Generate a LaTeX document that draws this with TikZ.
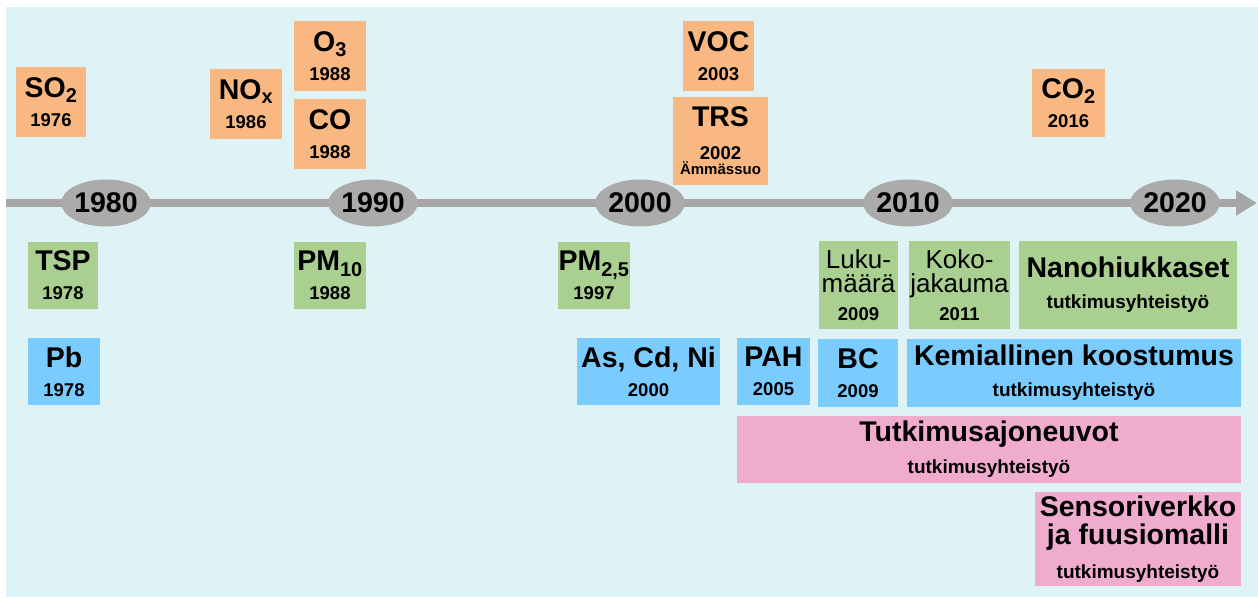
\documentclass[tikz,border=0pt]{standalone}
\usepackage{fontspec}
\setmainfont{Liberation Sans}
\usepackage{xcolor}
\usetikzlibrary{shapes.geometric,arrows.meta}
\definecolor{bgcol}{HTML}{DFF2F5}
\definecolor{orangebox}{HTML}{F9B882}
\definecolor{greenbox}{HTML}{A9CF91}
\definecolor{bluebox}{HTML}{7ACCFF}
\definecolor{pinkbox}{HTML}{F0ACCE}
\definecolor{axisgray}{HTML}{A6A6A6}
\definecolor{yeargray}{HTML}{ABABAB}
\newcommand{\yrtxt}[1]{{\fontsize{18.5}{22}\selectfont #1}}
\newcommand{\coltxt}[1]{{\fontsize{19}{22}\selectfont #1}}
\newcommand{\placetxt}[1]{{\fontsize{15}{18}\selectfont #1}}
\newcommand{\lighttxt}[1]{{\mdseries\fontsize{26}{29}\selectfont #1}}
\tikzset{
    every node/.style={font=\bfseries\fontsize{28.5}{29}\selectfont, align=center, inner sep=0pt},
    gasbox/.style={fill=orangebox, minimum width=#1},
    pmbox/.style={fill=greenbox, minimum width=#1},
    chembox/.style={fill=bluebox, minimum width=#1},
    projbox/.style={fill=pinkbox, minimum width=#1},
    decade/.style={ellipse, fill=yeargray, minimum width=82pt, minimum height=47pt, font=\bfseries\fontsize{28.5}{30}\selectfont}
}

\begin{document}
\begin{tikzpicture}[x=1pt,y=-1pt]
    \useasboundingbox (0,0) rectangle (1258,597);
    \fill[bgcol] (6,7) rectangle (1258,597);

    % Timeline
    \coordinate (tstart) at (6,203);
    \coordinate (tend) at (1257,203);
    \draw[axisgray, line width=8pt, -{Triangle[length=21pt,width=24pt]}] (tstart) -- (tend);
    \foreach \yr/\xpos in {1980/106, 1990/373, 2000/640, 2010/908, 2020/1175} {
        \node[decade] (y\yr) at (\xpos,203) {\yr};
    }

    % Gases above the timeline
    \node[gasbox=70pt, minimum height=70pt] (so2) at (51,102) {SO\textsubscript{2}\\\yrtxt{1976}};
    \node[gasbox=72pt, minimum height=70pt] (nox) at (246,104) {NO\textsubscript{x}\\\yrtxt{1986}};
    \node[gasbox=72pt, minimum height=70pt] (o3) at (330,56) {O\textsubscript{3}\\\yrtxt{1988}};
    \node[gasbox=72pt, minimum height=70pt] (co) at (330,134) {CO\\\yrtxt{1988}};
    \node[gasbox=71pt, minimum height=70pt] (voc) at (718.5,56) {VOC\\\yrtxt{2003}};
    \node[gasbox=95pt, minimum height=88pt] (trs) at (720.5,141) {TRS\\[4pt]\yrtxt{2002}\\[-14pt]\placetxt{Ämmässuo}};
    \node[gasbox=73pt, minimum height=68pt] (co2) at (1068.5,103) {CO\textsubscript{2}\\\yrtxt{2016}};

    % Particles
    \node[pmbox=70pt, minimum height=67pt] (tsp) at (63,275.5) {TSP\\\yrtxt{1978}};
    \node[pmbox=72pt, minimum height=67pt] (pm10) at (330,275.5) {PM\textsubscript{10}\\\yrtxt{1988}};
    \node[pmbox=72pt, minimum height=67pt] (pm25) at (594,275.5) {PM\textsubscript{2,5}\\\yrtxt{1997}};
    \node[pmbox=79pt, minimum height=88pt] (luku) at (858.5,285) {\lighttxt{Luku-}\\[-5pt]\lighttxt{määrä}\\[-1pt]\yrtxt{2009}};
    \node[pmbox=101pt, minimum height=88pt] (koko) at (959.5,285) {\lighttxt{Koko-}\\[-5pt]\lighttxt{jakauma}\\[-1pt]\yrtxt{2011}};
    \node[pmbox=218pt, minimum height=88pt] (nano) at (1128,285) {Nanohiukkaset\\[2pt]\coltxt{tutkimusyhteistyö}};

    % Chemical composition
    \node[chembox=72pt, minimum height=67pt] (pb) at (64,371.5) {Pb\\\yrtxt{1978}};
    \node[chembox=143pt, minimum height=67pt] (ascdni) at (648.5,371.5) {As, Cd, Ni\\\yrtxt{2000}};
    \node[chembox=73pt, minimum height=67pt] (pah) at (773.5,371.5) {PAH\\\yrtxt{2005}};
    \node[chembox=80pt, minimum height=68pt] (bc) at (858,373) {BC\\\yrtxt{2009}};
    \node[chembox=334pt, minimum height=68pt] (kemia) at (1074,373) {Kemiallinen koostumus\\[2pt]\coltxt{tutkimusyhteistyö}};

    % Research projects
    \node[projbox=504pt, minimum height=67pt] (ajoneuvot) at (989,449.5) {Tutkimusajoneuvot\\[3pt]\coltxt{tutkimusyhteistyö}};
    \node[projbox=206pt, minimum height=94pt] (sensori) at (1138,539) {Sensoriverkko\\[-1pt]ja fuusiomalli\\[5pt]\coltxt{tutkimusyhteistyö}};
\end{tikzpicture}
\end{document}
